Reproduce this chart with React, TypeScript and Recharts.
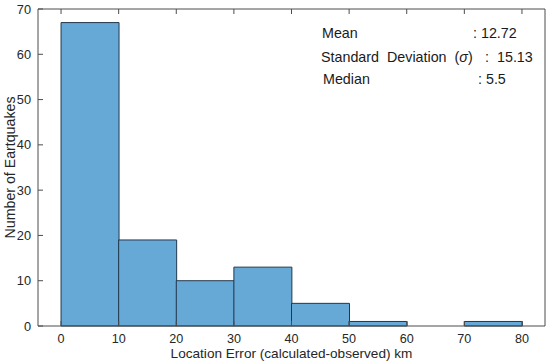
import React from "react";
import {
  ComposedChart,
  Bar,
  XAxis,
  YAxis,
  Customized,
} from "recharts";

// histogram bins (km) and counts
const binStarts = [0, 10, 20, 30, 40, 50, 60, 70];
const binWidth = 10;
const counts = [67, 19, 10, 13, 5, 1, 0, 1];

const xTicks = [0, 10, 20, 30, 40, 50, 60, 70, 80];
const yTicks = [0, 10, 20, 30, 40, 50, 60, 70];

const statLabels = ["Mean", "Standard  Deviation  (", "Median"];
const statValues = ["12.72", "15.13", "5.5"];

const data = binStarts.map((s, i) => ({
  mid: s + binWidth / 2,
  count: counts[i],
}));

const FONT = "'Liberation Sans', Arial, sans-serif";
const AXIS = "#4d4d4d";
const TEXT = "#262626";
const noLabel = () => <g />;

const Stats = () => (
  <g style={{ fontFamily: FONT, fontSize: 14.3, fill: "#1a1a1a" }}>
    <text x={322} y={38}>{statLabels[0]}</text>
    <text x={473} y={38}>{": " + statValues[0]}</text>
    <text x={321} y={61.5} xmlSpace="preserve" style={{ whiteSpace: "pre" }}>
      {statLabels[1]}
      <tspan fontStyle="italic">σ</tspan>
      {")"}
    </text>
    <text x={485} y={61.5}>:</text>
    <text x={497} y={61.5}>{statValues[1]}</text>
    <text x={323} y={83.5}>{statLabels[2]}</text>
    <text x={478} y={83.5}>{": " + statValues[2]}</text>
  </g>
);

export default function App() {
  return (
    <div style={{ position: "absolute", left: 0, top: 0, background: "#fff" }}>
      <ComposedChart
        width={550}
        height={363}
        data={data}
        margin={{ top: 8, right: 4, left: 0, bottom: 0 }}
        barCategoryGap={0}
        barGap={0}
      >
        <XAxis
          xAxisId="b"
          dataKey="mid"
          type="number"
          domain={[-4, 84]}
          ticks={xTicks}
          tickCount={10}
          allowDataOverflow
          height={37}
          stroke={AXIS}
          tickSize={-5}
          tickMargin={13}
          tick={{ fill: TEXT, fontSize: 12.6, fontFamily: FONT }}
          label={{
            value: "Location Error (calculated-observed) km",
            position: "insideBottom",
            offset: 5,
            style: { fill: TEXT, fontSize: 13.6, fontFamily: FONT },
          }}
        />
        <XAxis
          xAxisId="t"
          dataKey="mid"
          type="number"
          orientation="top"
          domain={[-4, 84]}
          ticks={xTicks}
          tickCount={10}
          height={1}
          stroke={AXIS}
          tickSize={-5}
          tick={noLabel}
        />
        <YAxis
          yAxisId="l"
          domain={[0, 70]}
          ticks={yTicks}
          width={38}
          stroke={AXIS}
          tickSize={-5}
          tickMargin={12}
          tick={{ fill: TEXT, fontSize: 12.8, fontFamily: FONT }}
          label={{
            value: "Number of Eartquakes",
            angle: -90,
            position: "insideLeft",
            offset: 10,
            style: { textAnchor: "middle", fill: TEXT, fontSize: 14.2, fontFamily: FONT },
          }}
        />
        <YAxis
          yAxisId="r"
          orientation="right"
          domain={[0, 70]}
          ticks={yTicks}
          width={1}
          stroke={AXIS}
          tickSize={-5}
          tick={noLabel}
        />
        <Bar
          xAxisId="b"
          yAxisId="l"
          dataKey="count"
          fill="#66a9d7"
          stroke="#22384c"
          strokeWidth={1}
          isAnimationActive={false}
        />
        <Customized component={Stats} />
      </ComposedChart>
    </div>
  );
}
